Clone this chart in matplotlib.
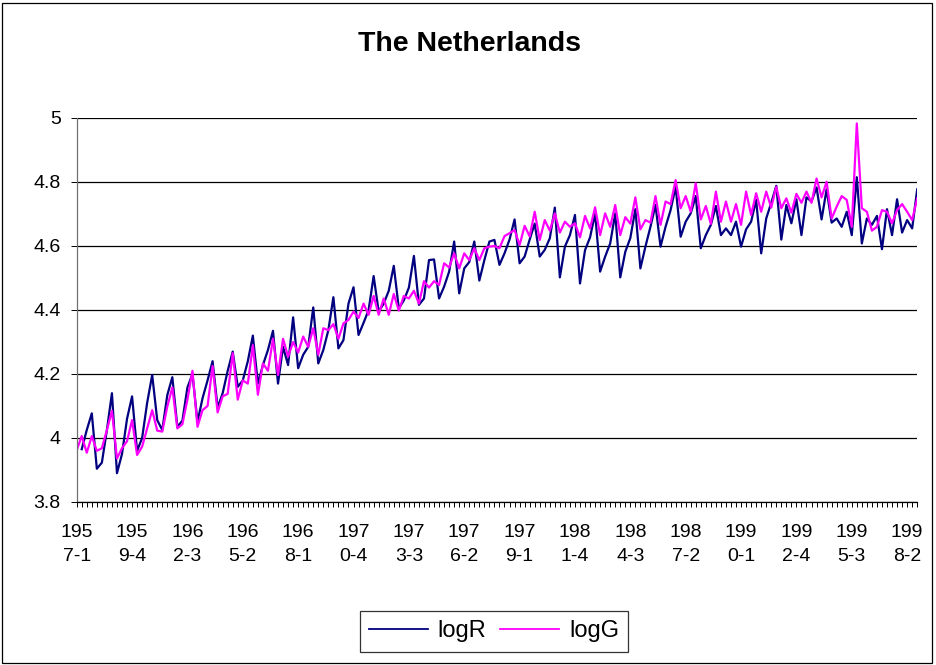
import numpy as np
import matplotlib
matplotlib.use('Agg')
import matplotlib.pyplot as plt
from matplotlib.patches import Rectangle

plt.rcParams['font.family'] = ['Liberation Sans', 'DejaVu Sans']

title = 'The Netherlands'
start_year = 1957
n_quarters = 168
quarters = [f"{start_year + k // 4}-{k % 4 + 1}" for k in range(n_quarters)]
label_step = 11

log_g = [
    3.962, 4.006, 3.954, 4.006, 3.960, 3.968, 4.025, 4.085, 3.936, 3.968,
    3.990, 4.056, 3.947, 3.973, 4.030, 4.087, 4.023, 4.020, 4.098, 4.158,
    4.030, 4.043, 4.120, 4.210, 4.035, 4.087, 4.100, 4.225, 4.080, 4.130,
    4.138, 4.265, 4.120, 4.180, 4.170, 4.290, 4.135, 4.233, 4.210, 4.310,
    4.197, 4.310, 4.254, 4.300, 4.267, 4.317, 4.285, 4.343, 4.260, 4.343,
    4.337, 4.356, 4.310, 4.358, 4.369, 4.395, 4.375, 4.420, 4.385, 4.444,
    4.385, 4.436, 4.385, 4.450, 4.398, 4.444, 4.436, 4.460, 4.420, 4.490,
    4.470, 4.490, 4.478, 4.546, 4.533, 4.577, 4.530, 4.577, 4.556, 4.593,
    4.556, 4.593, 4.598, 4.600, 4.593, 4.631, 4.640, 4.650, 4.603, 4.663,
    4.630, 4.707, 4.619, 4.681, 4.648, 4.702, 4.642, 4.676, 4.660, 4.671,
    4.627, 4.694, 4.655, 4.721, 4.634, 4.702, 4.660, 4.728, 4.634, 4.690,
    4.670, 4.752, 4.652, 4.681, 4.673, 4.756, 4.666, 4.739, 4.731, 4.806,
    4.718, 4.756, 4.707, 4.796, 4.683, 4.725, 4.669, 4.770, 4.676, 4.739,
    4.676, 4.731, 4.666, 4.770, 4.697, 4.765, 4.707, 4.770, 4.720, 4.785,
    4.718, 4.749, 4.704, 4.763, 4.735, 4.770, 4.735, 4.811, 4.752, 4.801,
    4.686, 4.723, 4.756, 4.744, 4.660, 4.983, 4.718, 4.707, 4.648, 4.660,
    4.712, 4.707, 4.671, 4.712, 4.731, 4.707, 4.681, 4.749,
]

log_r = [
    np.nan, 3.965, 4.025, 4.077, 3.904, 3.923, 4.025, 4.140, 3.890, 3.950,
    4.060, 4.130, 3.960, 4.000, 4.110, 4.197, 4.056, 4.025, 4.134, 4.190,
    4.035, 4.054, 4.158, 4.200, 4.050, 4.124, 4.180, 4.240, 4.095, 4.140,
    4.210, 4.270, 4.160, 4.180, 4.240, 4.320, 4.170, 4.228, 4.275, 4.335,
    4.170, 4.285, 4.228, 4.377, 4.218, 4.260, 4.285, 4.408, 4.233, 4.275,
    4.337, 4.440, 4.280, 4.306, 4.420, 4.471, 4.322, 4.360, 4.400, 4.506,
    4.395, 4.420, 4.460, 4.538, 4.405, 4.430, 4.470, 4.569, 4.416, 4.436,
    4.556, 4.558, 4.436, 4.473, 4.520, 4.614, 4.452, 4.530, 4.550, 4.614,
    4.492, 4.556, 4.614, 4.619, 4.541, 4.577, 4.620, 4.683, 4.546, 4.567,
    4.620, 4.670, 4.567, 4.588, 4.624, 4.720, 4.502, 4.598, 4.634, 4.697,
    4.483, 4.587, 4.627, 4.702, 4.520, 4.567, 4.608, 4.702, 4.502, 4.582,
    4.625, 4.715, 4.530, 4.598, 4.660, 4.728, 4.598, 4.660, 4.712, 4.785,
    4.629, 4.676, 4.702, 4.756, 4.593, 4.634, 4.666, 4.725, 4.634, 4.655,
    4.634, 4.676, 4.598, 4.652, 4.676, 4.744, 4.577, 4.686, 4.735, 4.788,
    4.620, 4.728, 4.671, 4.746, 4.634, 4.752, 4.739, 4.783, 4.683, 4.777,
    4.673, 4.686, 4.660, 4.707, 4.634, 4.815, 4.608, 4.686, 4.666, 4.694,
    4.590, 4.715, 4.634, 4.746, 4.642, 4.681, 4.655, 4.777,
]

y_ticks = [3.8, 4.0, 4.2, 4.4, 4.6, 4.8, 5.0]

W, H = 936, 665
fig = plt.figure(figsize=(W / 100, H / 100), dpi=100)
ax = fig.add_axes([76.7 / W, 163 / H, (917.2 - 76.7) / W, 384 / H])

x = np.arange(n_quarters)
ax.plot(x, log_r, color='#000080', lw=1.6, label='logR')
ax.plot(x, log_g, color='#ff00ff', lw=1.6, label='logG')

ax.set_xlim(0, n_quarters - 1)
ax.set_ylim(3.8, 5.0)

ax.set_yticks(y_ticks)
ax.set_yticklabels([f"{v:g}" for v in y_ticks])
for v in y_ticks:
    ax.axhline(v, color='black', lw=0.9, zorder=0)

xt_labels = []
for k, q in enumerate(quarters):
    xt_labels.append(q[:3] + '\n' + q[3:] if k % label_step == 0 else '')
ax.set_xticks(x)
ax.set_xticklabels(xt_labels, linespacing=1.6)

ax.tick_params(axis='x', direction='out', length=3.5, width=0.7, pad=12, labelsize=14)
ax.tick_params(axis='y', direction='out', length=4.5, width=0.7, pad=7, labelsize=14)

for s in ['top', 'right']:
    ax.spines[s].set_visible(False)
ax.spines['left'].set_color('#707070')
ax.spines['bottom'].set_color('black')
ax.spines['left'].set_linewidth(0.9)
ax.spines['bottom'].set_linewidth(0.9)

fig.text(470 / W, 1 - 44 / H, title, ha='center', va='center',
         fontsize=20.5, fontweight='bold')

leg = fig.legend(loc='center', bbox_to_anchor=(494 / W, 1 - 631.5 / H), ncol=2,
                 fontsize=17, frameon=True, fancybox=False, handlelength=2.5,
                 handletextpad=0.4, columnspacing=0.6, borderpad=0.4)
leg.get_frame().set_edgecolor('black')
leg.get_frame().set_linewidth(0.9)
for line in leg.get_lines():
    line.set_linewidth(1.3)

fig.patches.append(Rectangle((2 / W, 2 / H), 930 / W, 660 / H, transform=fig.transFigure,
                             fill=False, edgecolor='black', lw=0.9))

plt.savefig('out.png', dpi=100)
